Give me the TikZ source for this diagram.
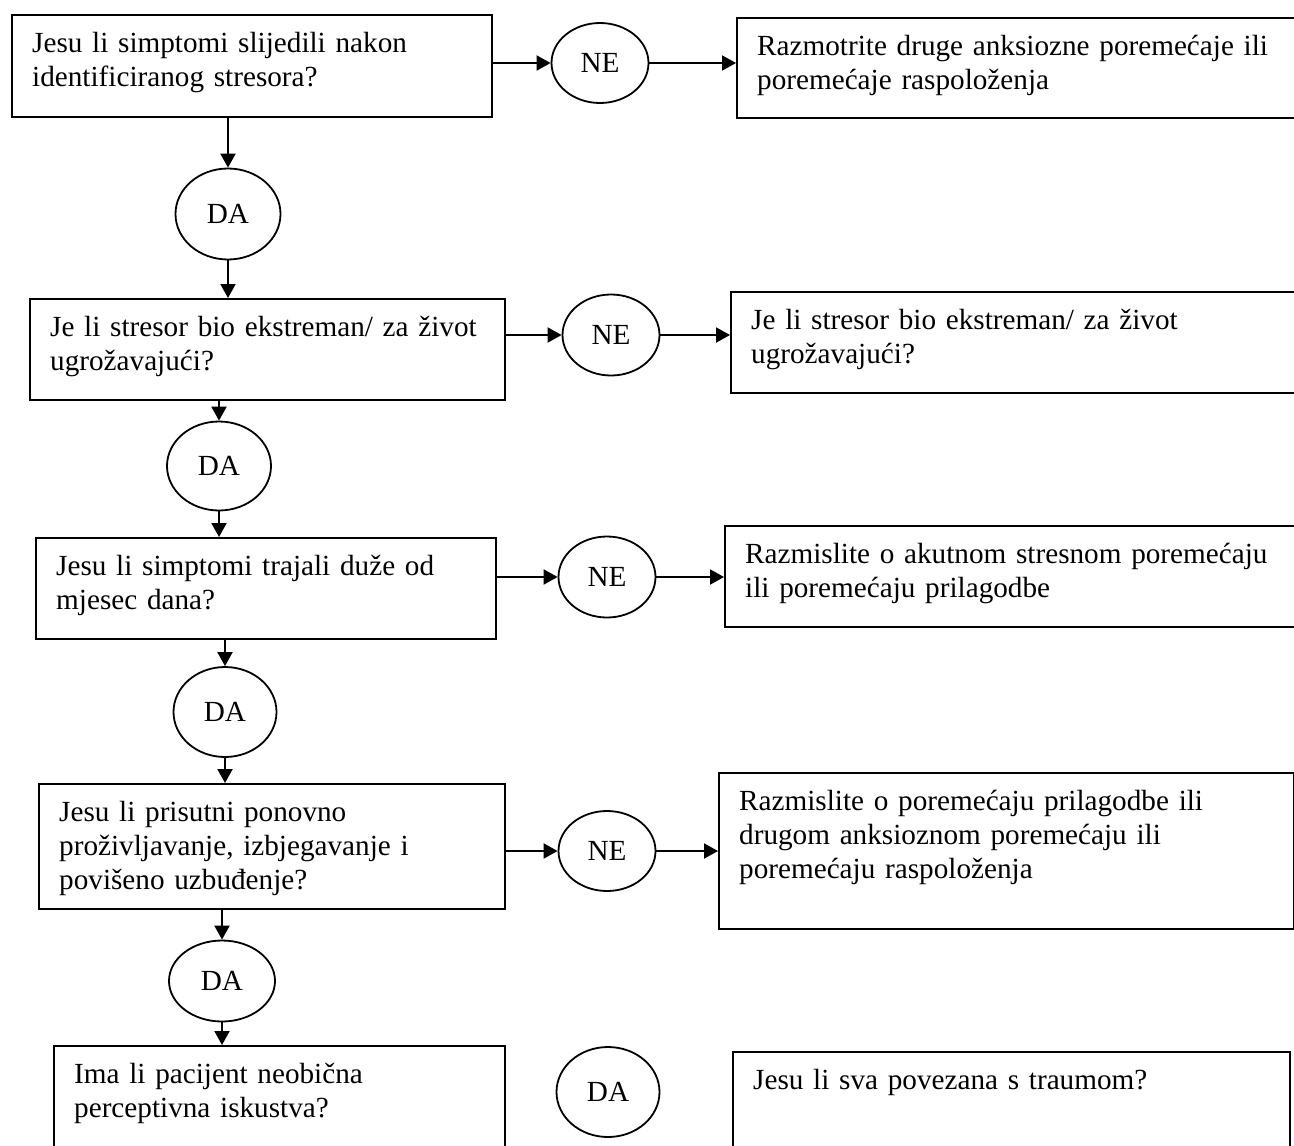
\documentclass[tikz,border=0pt]{standalone}
\usepackage{fontspec}
\setmainfont{Liberation Serif}
\usetikzlibrary{calc}
\usetikzlibrary{arrows.meta}
\usetikzlibrary{shapes.geometric}

\tikzset{
  pitanje/.style={draw=black, line width=1.2pt, rectangle, anchor=north west, align=left,
    inner xsep=10pt, inner ysep=4pt, text height=14.5pt, font=\fontsize{14.6}{17}\selectfont},
  odgovor/.style={draw=black, line width=0.9pt, ellipse, inner sep=0pt,
    font=\fontsize{14.6}{17}\selectfont},
  ne/.style={odgovor, minimum width=48.5pt, minimum height=40.5pt},
  da/.style={odgovor, minimum width=52pt, minimum height=45pt},
  strelica/.style={black, line width=1pt, -{Triangle[length=7pt,width=7.5pt]}}
}

\begin{document}
\begin{tikzpicture}[x=0.5pt,y=-0.5pt]

\useasboundingbox (0,0) rectangle (1294,1145);
\clip (0,0) rectangle (1294,1145);

\coordinate (Q1) at (11,14);
\coordinate (Q2) at (29,298);
\coordinate (Q3) at (35,537);
\coordinate (Q4) at (38,783);
\coordinate (Q5) at (53,1045);
\coordinate (R1) at (736,17);
\coordinate (R2) at (730,291);
\coordinate (R3) at (724,525);
\coordinate (R4) at (718,772);
\coordinate (R5) at (732,1051);

\node (q1) at (Q1) [pitanje, text width=220pt, text depth=28.5pt] {Jesu li simptomi slijedili nakon\\identificiranog stresora?};
\node (q2) at (Q2) [pitanje, text width=217.5pt, text depth=28pt] {Je li stresor bio ekstreman/ za život\\ugrožavajući?};
\node (q3) at (Q3) [pitanje, text width=210pt, text depth=28pt] {Jesu li simptomi trajali duže od\\mjesec dana?};
\node (q4) at (Q4) [pitanje, text width=213pt, text depth=40pt] {Jesu li prisutni ponovno\\proživljavanje, izbjegavanje i\\povišeno uzbuđenje?};
\node (q5) at (Q5) [pitanje, text width=205.5pt, text depth=55pt] {Ima li pacijent neobična\\perceptivna iskustva?};

\node (r1) at (R1) [pitanje, text width=310pt, text depth=27.5pt] {Razmotrite druge anksiozne poremećaje ili\\poremećaje raspoloženja};
\node (r2) at (R2) [pitanje, text width=310pt, text depth=28pt] {Je li stresor bio ekstreman/ za život\\ugrožavajući?};
\node (r3) at (R3) [pitanje, text width=310pt, text depth=28pt] {Razmislite o akutnom stresnom poremećaju\\ili poremećaju prilagodbe};
\node (r4) at (R4) [pitanje, text width=267.5pt, text depth=55.5pt] {Razmislite o poremećaju prilagodbe ili\\drugom anksioznom poremećaju ili\\poremećaju raspoloženja};
\node (r5) at (R5) [pitanje, text width=258.5pt, text depth=52pt] {Jesu li sva povezana s traumom?};

\node (n1) at (600,63) [ne, minimum height=40pt] {NE};
\node (n2) at (611,335) [ne] {NE};
\node (n3) at (607,577) [ne] {NE};
\node (n4) at (607,851) [ne, minimum height=40pt] {NE};

\node (d1) at (228,214) [da, minimum width=52.5pt, minimum height=45.5pt] {DA};
\node (d2) at (219,466) [da, minimum height=44.5pt] {DA};
\node (d3) at (225,712) [da, minimum width=51.5pt] {DA};
\node (d4) at (222,981) [da, minimum width=53pt, minimum height=40.5pt] {DA};
\node (d5) at (608,1092) [da, minimum width=51.5pt] {DA};

\draw[strelica] (q1.east |- n1.west) -- (n1.west);
\draw[strelica] (n1.east) -- (n1.east -| r1.west);
\draw[strelica] (q2.east |- n2.west) -- (n2.west);
\draw[strelica] (n2.east) -- (n2.east -| r2.west);
\draw[strelica] (q3.east |- n3.west) -- (n3.west);
\draw[strelica] (n3.east) -- (n3.east -| r3.west);
\draw[strelica] (q4.east |- n4.west) -- (n4.west);
\draw[strelica] (n4.east) -- (n4.east -| r4.west);

\draw[strelica] (d1.north |- q1.south) -- (d1.north);
\draw[strelica] (d1.south) -- (d1.south |- q2.north);
\draw[strelica] (d2.north |- q2.south) -- (d2.north);
\draw[strelica] (d2.south) -- (d2.south |- q3.north);
\draw[strelica] (d3.north |- q3.south) -- (d3.north);
\draw[strelica] (d3.south) -- (d3.south |- q4.north);
\draw[strelica] (d4.north |- q4.south) -- (d4.north);
\draw[strelica] (d4.south) -- (d4.south |- q5.north);

\end{tikzpicture}
\end{document}
